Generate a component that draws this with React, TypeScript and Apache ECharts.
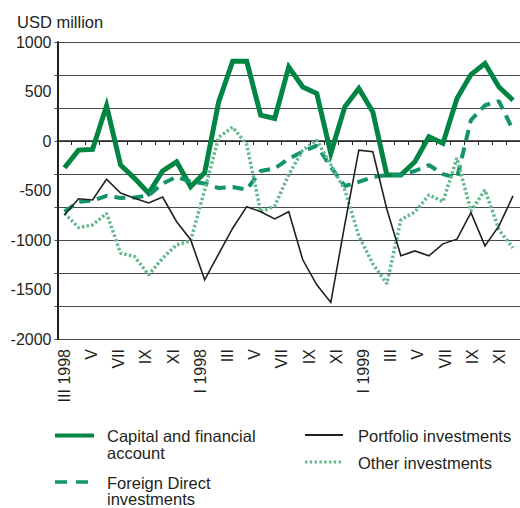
import React, { useEffect, useRef } from 'react';
import * as echarts from 'echarts';

// Months from III 1997 to XI 1999 (labels as printed in the reference)
const months = [
  'III 1998', 'IV', 'V', 'VI', 'VII', 'VIII', 'IX', 'X', 'XI', 'XII',
  'I 1998', 'II', 'III', 'IV', 'V', 'VI', 'VII', 'VIII', 'IX', 'X', 'XI', 'XII',
  'I 1999', 'II', 'III', 'IV', 'V', 'VI', 'VII', 'VIII', 'IX', 'X', 'XI',
];

// Tick labels as printed under the axis (every second month)
const tickLabels = [
  'III 1998', '', 'V', '', 'VII', '', 'IX', '', 'XI', '',
  'I 1998', '', 'III', '', 'V', '', 'VII', '', 'IX', '', 'XI', '',
  'I 1999', '', 'III', '', 'V', '', 'VII', '', 'IX', '', 'XI', '',
];

const capitalAccount = [
  -270, -92, -85, 355, -243, -377, -528, -303, -210, -462,
  -320, 395, 805, 805, 261, 228, 748, 546, 480, -125, 345, 530,
  294, -344, -344, -210, 42, -24, 429, 671, 782, 546, 412,
];

const foreignDirect = [
  -714, -613, -603, -555, -575, -570, -550, -430, -362, -410,
  -430, -475, -465, -490, -303, -276, -180, -107, -46, -263, -455, -414,
  -364, -344, -344, -303, -243, -334, -374, 211, 361, 402, 110,
];

const portfolio = [
  -747, -583, -596, -386, -525, -579, -626, -566, -815, -997,
  -1402, -1140, -881, -663, -714, -787, -714, -1200, -1453, -1631, -843, -92,
  -109, -690, -1160, -1110, -1160, -1039, -992, -724, -1059, -858, -555,
];

const otherInvestments = [
  -730, -875, -848, -730, -1133, -1167, -1352, -1183, -1049, -1009,
  -495, 39, 140, -35, -717, -656, -340, -92, 9, -240, -495, -959,
  -1241, -1442, -797, -717, -545, -613, -172, -707, -495, -898, -1080,
];

const yTicks = { min: -2000, max: 1000, step: 500 };

const FONT = "'Liberation Sans', Arial, Helvetica, sans-serif";
const INK = '#231f20';
const GREEN = '#008542';
const GREEN_DASH = '#12946a';
const GREEN_DOT = '#66b98e';

export default function App() {
  const ref = useRef<HTMLDivElement>(null);

  useEffect(() => {
    if (!ref.current) return;
    const chart = echarts.init(ref.current, null, { renderer: 'svg' });
    const txt = (text: string, x: number, y: number) => ({
      type: 'text',
      x,
      y,
      style: {
        text,
        fill: INK,
        fontSize: 16.5,
        fontFamily: FONT,
        align: 'left',
        verticalAlign: 'middle',
      },
    });
    chart.setOption({
      animation: false,
      grid: { left: 57.5, top: 42, width: 466, height: 297 },
      xAxis: [
        {
          type: 'category',
          position: 'bottom',
          data: months,
          boundaryGap: true,
          axisLine: { lineStyle: { color: INK, width: 1.5 } },
          axisTick: { show: true, interval: 0, length: 4, lineStyle: { color: INK, width: 1 } },
          axisLabel: { show: false },
          splitLine: { show: false },
        },
        {
          type: 'category',
          position: 'bottom',
          data: tickLabels,
          boundaryGap: true,
          axisLine: { show: false },
          axisTick: { show: false },
          axisLabel: {
            interval: 0,
            rotate: 90,
            margin: 10,
            fontSize: 16,
            color: INK,
            fontFamily: FONT,
          },
          splitLine: { show: false },
        },
      ],
      yAxis: [
        {
          type: 'value',
          position: 'left',
          min: yTicks.min,
          max: yTicks.max,
          interval: yTicks.step,
          axisLine: { show: true, lineStyle: { color: INK, width: 2 } },
          axisTick: { show: false },
          splitLine: { show: false },
          axisLabel: {
            fontSize: 16,
            color: INK,
            fontFamily: FONT,
            margin: 6,
            padding: [6, 0, 0, 0],
            formatter: (v: number) => String(v),
          },
        },
        {
          type: 'value',
          position: 'left',
          min: -6,
          max: 3,
          interval: 1,
          axisLine: { show: false },
          axisTick: { show: true, length: 3, lineStyle: { color: '#444', width: 1 } },
          axisLabel: { show: false },
          splitLine: { show: true, lineStyle: { color: '#4a4a4a', width: 1.2 } },
        },
      ],
      series: [
        {
          name: 'Capital and financial account',
          type: 'line',
          data: capitalAccount,
          symbol: 'none',
          lineStyle: { color: GREEN, width: 5, join: 'miter' },
        },
        {
          name: 'Foreign Direct investments',
          type: 'line',
          data: foreignDirect,
          symbol: 'none',
          lineStyle: { color: GREEN_DASH, width: 4, type: [11, 7], cap: 'butt' },
        },
        {
          name: 'Other investments',
          type: 'line',
          data: otherInvestments,
          symbol: 'none',
          lineStyle: { color: GREEN_DOT, width: 3.5, type: [2.5, 2.2], cap: 'butt' },
        },
        {
          name: 'Portfolio investments',
          type: 'line',
          data: portfolio,
          symbol: 'none',
          lineStyle: { color: INK, width: 1.6, join: 'miter' },
        },
      ],
      graphic: [
        txt('USD million', 17, 22),
        {
          type: 'line',
          shape: { x1: 55, y1: 435.5, x2: 94, y2: 435.5 },
          style: { stroke: GREEN, lineWidth: 4 },
        },
        txt('Capital and financial', 107, 436),
        txt('account', 107, 452.5),
        {
          type: 'line',
          shape: { x1: 55, y1: 482, x2: 88, y2: 482 },
          style: { stroke: GREEN_DASH, lineWidth: 3.5, lineDash: [12, 9] },
        },
        txt('Foreign Direct', 107, 482.5),
        txt('investments', 107, 499),
        {
          type: 'line',
          shape: { x1: 305, y1: 435, x2: 343, y2: 435 },
          style: { stroke: INK, lineWidth: 2 },
        },
        txt('Portfolio investments', 358, 436),
        {
          type: 'line',
          shape: { x1: 305, y1: 462, x2: 343, y2: 462 },
          style: { stroke: GREEN_DOT, lineWidth: 3, lineDash: [2.4, 2.4] },
        },
        txt('Other investments', 358, 463),
      ],
    });
    return () => chart.dispose();
  }, []);

  return (
    <div
      ref={ref}
      style={{ position: 'absolute', left: 0, top: 0, width: 520, height: 508 }}
    />
  );
}
